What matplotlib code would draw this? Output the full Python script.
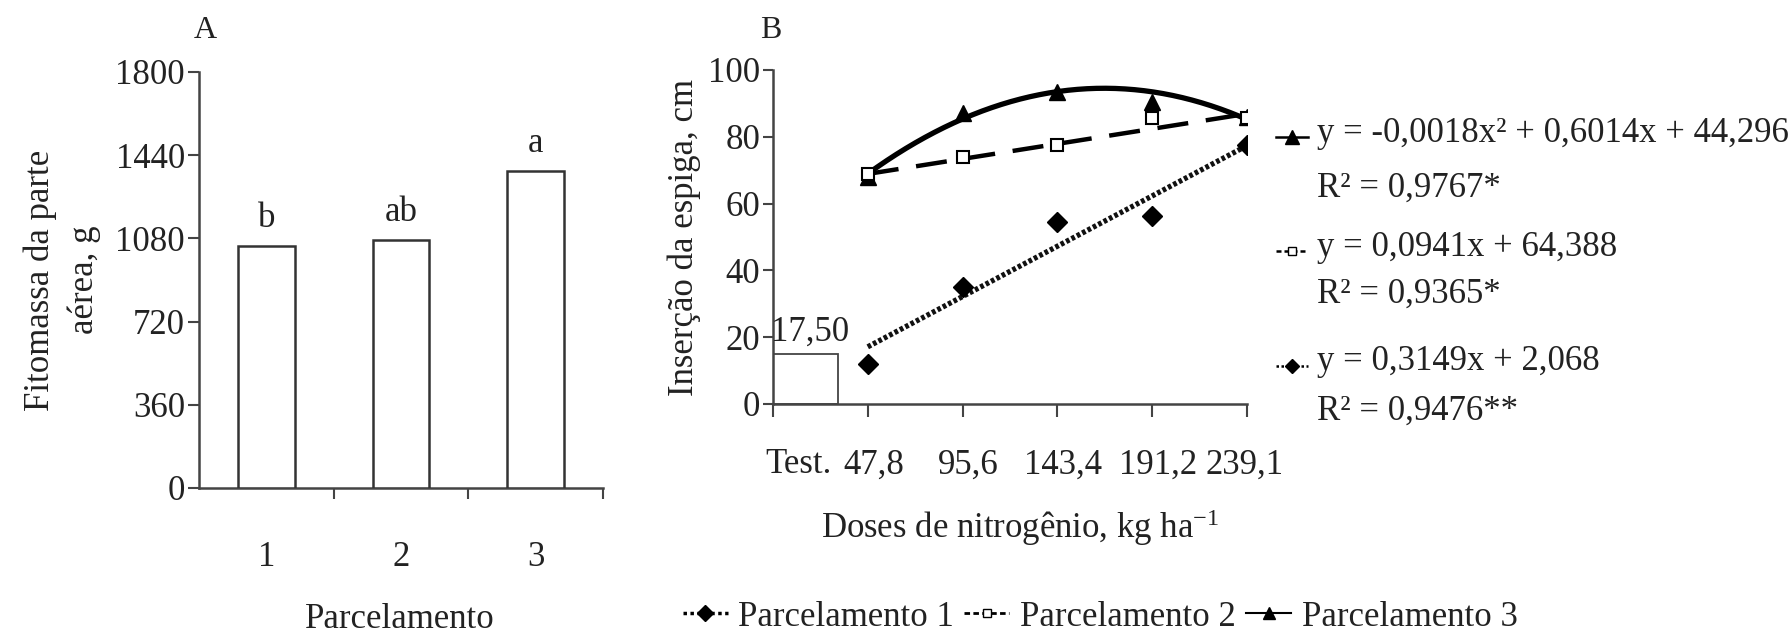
import numpy as np
import matplotlib
matplotlib.use("Agg")
import matplotlib.pyplot as plt
from matplotlib.lines import Line2D

plt.rcParams['font.family'] = ['Liberation Serif', 'DejaVu Serif']
plt.rcParams['mathtext.fontset'] = 'custom'
plt.rcParams['mathtext.rm'] = 'Liberation Serif'
plt.rcParams['mathtext.it'] = 'Liberation Serif:italic'
FS = 25
TXT = '#222222'
AX = '#444444'

# ---------------- data ----------------
# Panel A
parcel_labels = ['1', '2', '3']
fitomassa = [1047, 1072, 1371]
letters = ['b', 'ab', 'a']
a_yticks = [0, 360, 720, 1080, 1440, 1800]

# Panel B
doses = [47.8, 95.6, 143.4, 191.2, 239.1]
dose_labels = ['47,8', '95,6', '143,4', '191,2', '239,1']
test_label = 'Test.'
test_value = 15.0
test_text = '17,50'
parc1 = [12.0, 35.0, 54.6, 56.2, 77.5]
parc2 = [69.0, 74.0, 77.5, 85.5, 85.5]
parc3 = [68.0, 87.0, 93.4, 90.5, 86.0]
coef1 = [0.3149, 2.068]
coef2 = [0.0941, 64.388]
coef3 = [-0.0018, 0.6014, 44.296]
eq_text = [
    ('y = -0,0018x² + 0,6014x + 44,296', 'R² = 0,9767*'),
    ('y = 0,0941x + 64,388', 'R² = 0,9365*'),
    ('y = 0,3149x + 2,068', 'R² = 0,9476**'),
]
b_yticks = [0, 20, 40, 60, 80, 100]

W, H = 1790, 634
fig = plt.figure(figsize=(W / 100, H / 100), dpi=100)

def fx(px):
    return px / W

def fy(py):
    return 1 - py / H

# ---------------- Panel A ----------------
axA = fig.add_axes([fx(199), fy(488), fx(603) - fx(199), fy(72) - fy(488)])
xA = np.arange(1, len(fitomassa) + 1)
axA.bar(xA, fitomassa, width=0.42, color='white', edgecolor='#333333', linewidth=1.8, zorder=3)
for xi, v, l in zip(xA, fitomassa, letters):
    axA.annotate(l, (xi, v), xytext=(0, 20), textcoords='offset points',
                 ha='center', va='center', fontsize=FS, color=TXT)
axA.set_xlim(0.5, 3.5)
axA.set_ylim(0, 1800)
axA.set_yticks(a_yticks)
axA.set_yticklabels([str(t) for t in a_yticks], fontsize=FS, color=TXT)
axA.set_xticks([1.5, 2.5, 3.5])
axA.set_xticklabels([])
axA.set_xticks(xA, minor=True)
axA.set_xticklabels(parcel_labels, minor=True, fontsize=FS, color=TXT)
axA.tick_params(axis='x', which='major', direction='out', length=8, width=1.5, color=AX)
axA.tick_params(axis='x', which='minor', length=0, pad=38)
axA.tick_params(axis='y', direction='out', length=8, width=1.5, color=AX, pad=2)
for s in ['top', 'right']:
    axA.spines[s].set_visible(False)
for s in ['left', 'bottom']:
    axA.spines[s].set_color(AX)
    axA.spines[s].set_linewidth(1.8)
fig.text(fx(62), fy(280), 'Fitomassa da parte\naérea, g', rotation=90, ha='center', va='center',
         fontsize=FS, color=TXT, linespacing=1.4, multialignment='center')
fig.text(fx(400), fy(619), 'Parcelamento', ha='center', va='center', fontsize=FS, color=TXT)
fig.text(fx(205), fy(30), 'A', ha='center', va='center', fontsize=FS - 2, color=TXT)

# ---------------- Panel B ----------------
axB = fig.add_axes([fx(773), fy(404), fx(1247) - fx(773), fy(70) - fy(404)])
axB.set_xlim(0, 239.1)
axB.set_ylim(0, 100)
axB.bar([16.5], [test_value], width=33, color='white', edgecolor='#444444', linewidth=1.3, zorder=2)
axB.text(18.5, test_value + 1.5, test_text, ha='center', va='bottom', fontsize=FS, color=TXT)

xs = np.linspace(doses[0], doses[-1], 200)
axB.plot(xs, np.polyval(coef3, xs), color='black', lw=3.8, solid_capstyle='round', zorder=4)
axB.plot(xs, np.polyval(coef2, xs), color='black', lw=3.2, dashes=(7, 4), zorder=4)
axB.plot(xs, np.polyval(coef1, xs), color='#111111', lw=3.8, linestyle=(0, (0.7, 0.45)), zorder=4)

axB.plot(doses, parc3, linestyle='none', marker='^', ms=11, color='black', zorder=5)
axB.plot(doses, parc2, linestyle='none', marker='s', ms=8, mfc='white', mec='black', mew=1.5, zorder=5)
axB.plot(doses, parc1, linestyle='none', marker='D', ms=10, color='black', zorder=5)

axB.set_yticks(b_yticks)
axB.set_yticklabels([str(t) for t in b_yticks], fontsize=FS, color=TXT)
axB.set_xticks([0] + doses)
axB.set_xticklabels([''] * (len(doses) + 1))
axB.set_xticks([13] + [d + 3 for d in doses[:-1]] + [doses[-1] - 1], minor=True)
axB.set_xticklabels([test_label] + dose_labels, minor=True, fontsize=FS, color=TXT)
axB.tick_params(axis='x', which='major', direction='out', length=9, width=1.5, color=AX)
axB.tick_params(axis='x', which='minor', length=0, pad=32)
axB.tick_params(axis='y', direction='out', length=7, width=1.5, color=AX, pad=2)
for s in ['top', 'right']:
    axB.spines[s].set_visible(False)
for s in ['left', 'bottom']:
    axB.spines[s].set_color(AX)
    axB.spines[s].set_linewidth(1.8)
fig.text(fx(684), fy(237), 'Inserção da espiga, cm', rotation=90, ha='center', va='center',
         fontsize=FS, color=TXT)
fig.text(fx(1020), fy(528), 'Doses de nitrogênio, kg ha$^{\\mathrm{-1}}$', ha='center', va='center',
         fontsize=FS, color=TXT)
fig.text(fx(771), fy(30), 'B', ha='center', va='center', fontsize=FS - 2, color=TXT)

# equation legend on the right
eq_rows = [(133, 188), (247, 294), (362, 411)]
eq_styles = [
    dict(marker='^', ms=10, color='black'),
    dict(marker='s', ms=6, mfc='white', mec='black', color='black'),
    dict(marker='D', ms=7, color='black'),
]
eq_lines = ['-', (0, (2, 1.2)), (0, (1, 1))]
for (y1, y2), (t1, t2), st, ls in zip(eq_rows, eq_text, eq_styles, eq_lines):
    ln = Line2D([fx(1276), fx(1308)], [fy(y1 + 4), fy(y1 + 4)], transform=fig.transFigure,
                color='black', linestyle=ls, lw=1.8)
    fig.add_artist(ln)
    ln2 = Line2D([fx(1292)], [fy(y1 + 4)], transform=fig.transFigure, linestyle='none', **st)
    fig.add_artist(ln2)
    fig.text(fx(1317), fy(y1), t1, ha='left', va='center', fontsize=FS, color=TXT)
    fig.text(fx(1317), fy(y2), t2, ha='left', va='center', fontsize=FS, color=TXT)

# bottom legend
handles = [
    Line2D([], [], marker='D', ms=8, color='black', linestyle=(0, (1, 1)), lw=2.5),
    Line2D([], [], marker='s', ms=6, mfc='white', mec='black', color='black', linestyle=(0, (2, 1.2)), lw=2),
    Line2D([], [], marker='^', ms=9, color='black', linestyle='-', lw=1.5),
]
fig.legend(handles, ['Parcelamento 1', 'Parcelamento 2', 'Parcelamento 3'], loc='center',
           bbox_to_anchor=(fx(1100), fy(617)), ncol=3, frameon=False, fontsize=FS,
           handlelength=1.3, handletextpad=0.3, columnspacing=0.3, borderaxespad=0, borderpad=0,
           labelcolor=TXT)

fig.savefig('out.png', dpi=100, facecolor='white')
